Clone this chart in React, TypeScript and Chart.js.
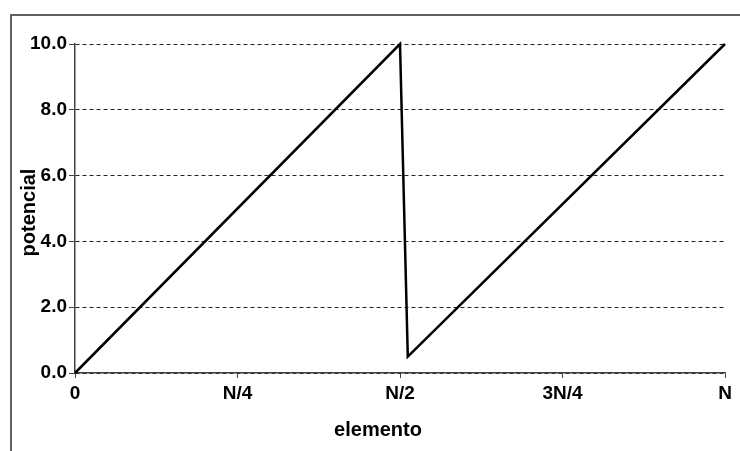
import React, { useEffect, useRef } from "react";
import { Chart, registerables } from "chart.js";

Chart.register(...registerables);

// x positions as a fraction of N, and the potential at each element
const elementoPos = [0, 0.5, 0.512, 1];
const potencialVals = [0, 10, 0.5, 10];

const xTickValues = [0, 0.25, 0.5, 0.75, 1];
const xTickLabels = ["0", "N/4", "N/2", "3N/4", "N"];
const yTickValues = [0, 2, 4, 6, 8, 10];

const xTitle = "elemento";
const yTitle = "potencial";

const FONT = "'Liberation Sans', Arial, sans-serif";

export default function App() {
  const ref = useRef<HTMLCanvasElement>(null);

  useEffect(() => {
    if (!ref.current) return;
    const titlePlugin = {
      id: "axisTitles",
      afterDraw(chart: any) {
        const { ctx, chartArea } = chart;
        ctx.save();
        ctx.font = `bold 20px ${FONT}`;
        ctx.fillStyle = "#000";
        ctx.textAlign = "center";
        ctx.textBaseline = "alphabetic";
        const cx = (chartArea.left + chartArea.right) / 2 - 22;
        ctx.fillText(xTitle, cx, chartArea.bottom + 63);
        const cy = (chartArea.top + chartArea.bottom) / 2 + 4;
        ctx.translate(chartArea.left - 40, cy);
        ctx.rotate(-Math.PI / 2);
        ctx.fillText(yTitle, 0, 0);
        ctx.restore();
      },
    };

    const chart = new Chart(ref.current, {
      type: "scatter",
      data: {
        datasets: [
          {
            data: elementoPos.map((x, i) => ({ x, y: potencialVals[i] })),
            showLine: true,
            borderColor: "#000",
            borderWidth: 2.5,
            pointRadius: 0,
            tension: 0,
            clip: false as any,
          },
        ],
      },
      options: {
        animation: false,
        responsive: false,
        layout: { padding: { top: 44, right: 15, left: 0, bottom: 0 } },
        plugins: { legend: { display: false }, tooltip: { enabled: false } },
        scales: {
          x: {
            type: "linear",
            min: xTickValues[0],
            max: xTickValues[xTickValues.length - 1],
            afterFit: (s: any) => {
              s.height = 78;
            },
            afterBuildTicks: (s: any) => {
              s.ticks = xTickValues.map((v) => ({ value: v }));
            },
            ticks: {
              autoSkip: false,
              maxRotation: 0,
              padding: 4,
              color: "#000",
              font: { family: FONT, size: 19, weight: "bold" },
              callback: (v: any) => xTickLabels[xTickValues.indexOf(Number(v))] ?? "",
            },
            grid: {
              drawOnChartArea: false,
              drawTicks: true,
              tickLength: 5,
              tickColor: "#404040",
              tickWidth: 1,
            },
            border: { display: true, color: "#404040", width: 1.5 },
          },
          y: {
            type: "linear",
            min: yTickValues[0],
            max: yTickValues[yTickValues.length - 1],
            afterFit: (s: any) => {
              s.width = 75;
            },
            afterBuildTicks: (s: any) => {
              s.ticks = yTickValues.map((v) => ({ value: v }));
            },
            ticks: {
              padding: 2,
              color: "#000",
              font: { family: FONT, size: 19, weight: "bold" },
              callback: (v: any) => Number(v).toFixed(1),
            },
            grid: {
              color: "#222",
              lineWidth: 1,
              tickLength: 6,
              tickColor: "#404040",
              tickWidth: 1,
            },
            border: { display: true, color: "#404040", width: 1.5, dash: [4, 3] },
          },
        },
      },
      plugins: [titlePlugin],
    } as any);

    return () => chart.destroy();
  }, []);

  return (
    <div
      style={{
        position: "fixed",
        left: 0,
        top: 0,
        width: 740,
        height: 451,
        overflow: "hidden",
        background: "#fff",
      }}
    >
      <div
        style={{
          position: "absolute",
          left: 10,
          top: 14,
          width: 760,
          height: 460,
          borderTop: "2px solid #606060",
          borderLeft: "2px solid #606060",
        }}
      />
      <canvas
        ref={ref}
        width={740}
        height={451}
        style={{ position: "absolute", left: 0, top: 0, width: 740, height: 451 }}
      />
    </div>
  );
}
